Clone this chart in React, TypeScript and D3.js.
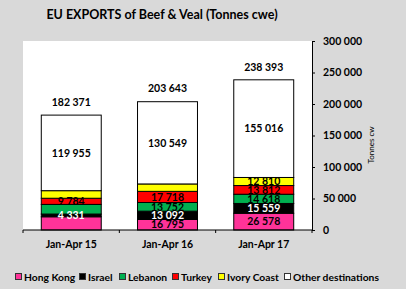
import { useEffect, useRef } from "react";
import * as d3 from "d3";

// Tonnes cwe, Jan-Apr of each year
const periods = ["Jan-Apr 15", "Jan-Apr 16", "Jan-Apr 17"];
const seriesNames = ["Hong Kong", "Israel", "Lebanon", "Turkey", "Ivory Coast", "Other destinations"];
const seriesColors = ["#ff3399", "#000000", "#00b050", "#ff0000", "#ffff00", "#ffffff"];
const labelColors = ["#000000", "#ffffff", "#000000", "#000000", "#000000", "#000000"];

const hongKong = [21000, 16795, 26578];
const israel = [4331, 13092, 15559];
const lebanon = [15300, 13752, 14618];
const turkey = [9784, 17718, 13812];
const ivoryCoast = [12001, 11737, 12810];
const otherDest = [119955, 130549, 155016];
const totals = [182371, 203643, 238393];

// which segments carry a value label, per series and period
const labelShown = [
  [false, true, true],
  [true, true, true],
  [false, true, true],
  [true, true, true],
  [false, false, true],
  [true, true, true],
];

const yTicks = [0, 50000, 100000, 150000, 200000, 250000, 300000];

const W = 406;
const H = 289;
const plot = { left: 23, right: 312, top: 41, bottom: 230 };

const fmt = d3
  .formatLocale({ decimal: ",", thousands: " ", grouping: [3], currency: ["", ""] })
  .format(",d");

export default function App() {
  const svgRef = useRef<SVGSVGElement>(null);

  useEffect(() => {
    if (!svgRef.current) return;
    const svg = d3.select(svgRef.current);
    svg.selectAll("*").remove();

    const font = "Lato, 'Open Sans', sans-serif";
    const allSeries = [hongKong, israel, lebanon, turkey, ivoryCoast, otherDest];
    const rows = periods.map((p, i) => {
      const r: any = { period: p };
      seriesNames.forEach((s, k) => (r[s] = allSeries[k][i]));
      return r;
    });

    const x = d3.scaleBand<string>()
      .domain(periods)
      .range([plot.left, plot.right])
      .paddingInner(0.377)
      .paddingOuter(0.19);
    const y = d3.scaleLinear().domain([0, 300000]).range([plot.bottom, plot.top]);

    svg.append("rect").attr("width", W).attr("height", H).attr("fill", "#d9d9d9");
    svg.append("rect")
      .attr("x", plot.left).attr("y", plot.top)
      .attr("width", plot.right - plot.left).attr("height", plot.bottom - plot.top)
      .attr("fill", "#ffffff");

    svg.append("text")
      .attr("x", 162).attr("y", 19)
      .attr("text-anchor", "middle")
      .attr("font-family", font).attr("font-weight", "bold").attr("font-size", 12.5)
      .text("EU EXPORTS of Beef & Veal (Tonnes cwe)");

    const stacked = d3.stack<any>().keys(seriesNames)(rows);

    const layers = svg.append("g").selectAll("g")
      .data(stacked)
      .join("g")
      .attr("fill", (_, k) => seriesColors[k]);

    layers.selectAll("rect")
      .data((d) => d)
      .join("rect")
      .attr("x", (d: any) => x(d.data.period)!)
      .attr("width", x.bandwidth())
      .attr("y", (d) => y(d[1]))
      .attr("height", (d) => y(d[0]) - y(d[1]))
      .attr("stroke", "#000")
      .attr("stroke-width", 1);

    stacked.forEach((layer, k) => {
      layer.forEach((d: any, i) => {
        if (!labelShown[k][i]) return;
        svg.append("text")
          .attr("x", x(d.data.period)! + x.bandwidth() / 2)
          .attr("y", (y(d[0]) + y(d[1])) / 2)
          .attr("dy", "0.36em")
          .attr("text-anchor", "middle")
          .attr("font-family", font).attr("font-weight", "bold").attr("font-size", 10.5)
          .attr("fill", labelColors[k])
          .text(fmt(d.data[seriesNames[k]]));
      });
    });

    periods.forEach((p, i) => {
      svg.append("text")
        .attr("x", x(p)! + x.bandwidth() / 2)
        .attr("y", y(totals[i]) - 13)
        .attr("dy", "0.36em")
        .attr("text-anchor", "middle")
        .attr("font-family", font).attr("font-weight", "bold").attr("font-size", 10.5)
        .text(fmt(totals[i]));
    });

    // y axis on the right
    const yAxis = svg.append("g")
      .attr("transform", `translate(${plot.right},0)`)
      .call(d3.axisRight(y).tickValues(yTicks).tickSize(3).tickPadding(8).tickFormat((v) => fmt(v as number)));
    yAxis.select(".domain").attr("stroke", "#000");
    yAxis.selectAll(".tick line").attr("stroke", "#000");
    yAxis.selectAll("text")
      .attr("font-family", font).attr("font-weight", "bold").attr("font-size", 10.5).attr("fill", "#000");

    svg.append("text")
      .attr("transform", `translate(374,145) rotate(-90)`)
      .attr("text-anchor", "middle")
      .attr("font-family", font).attr("font-size", 8)
      .text("Tonnes cw");

    // x axis
    const xg = svg.append("g");
    xg.append("line")
      .attr("x1", plot.left).attr("x2", plot.right)
      .attr("y1", plot.bottom).attr("y2", plot.bottom)
      .attr("stroke", "#000");
    const bounds = d3.range(periods.length + 1).map((i) => plot.left + i * (plot.right - plot.left) / periods.length);
    xg.selectAll(".xt")
      .data(bounds)
      .join("line")
      .attr("x1", (d) => d).attr("x2", (d) => d)
      .attr("y1", plot.bottom).attr("y2", plot.bottom + 3)
      .attr("stroke", "#000");
    xg.selectAll(".xl")
      .data(periods)
      .join("text")
      .attr("x", (d) => x(d)! + x.bandwidth() / 2)
      .attr("y", 244)
      .attr("dy", "0.36em")
      .attr("text-anchor", "middle")
      .attr("font-family", font).attr("font-weight", "bold").attr("font-size", 10.5)
      .text((d) => d);

    // legend
    const legendX = [15, 79, 119, 172, 218, 284];
    const lg = svg.append("g").attr("transform", "translate(0,277)");
    seriesNames.forEach((s, k) => {
      lg.append("rect")
        .attr("x", legendX[k] + 0.5).attr("y", -3.5)
        .attr("width", 6).attr("height", 6)
        .attr("fill", seriesColors[k])
        .attr("stroke", "#333").attr("stroke-width", 1);
      lg.append("text")
        .attr("x", legendX[k] + 9)
        .attr("y", 0)
        .attr("dy", "0.36em")
        .attr("font-family", font).attr("font-weight", "bold").attr("font-size", 10.3)
        .text(s);
    });
  }, []);

  return (
    <div style={{ position: "fixed", left: 0, top: 0 }}>
      <svg ref={svgRef} width={W} height={H} style={{ display: "block" }} />
    </div>
  );
}
